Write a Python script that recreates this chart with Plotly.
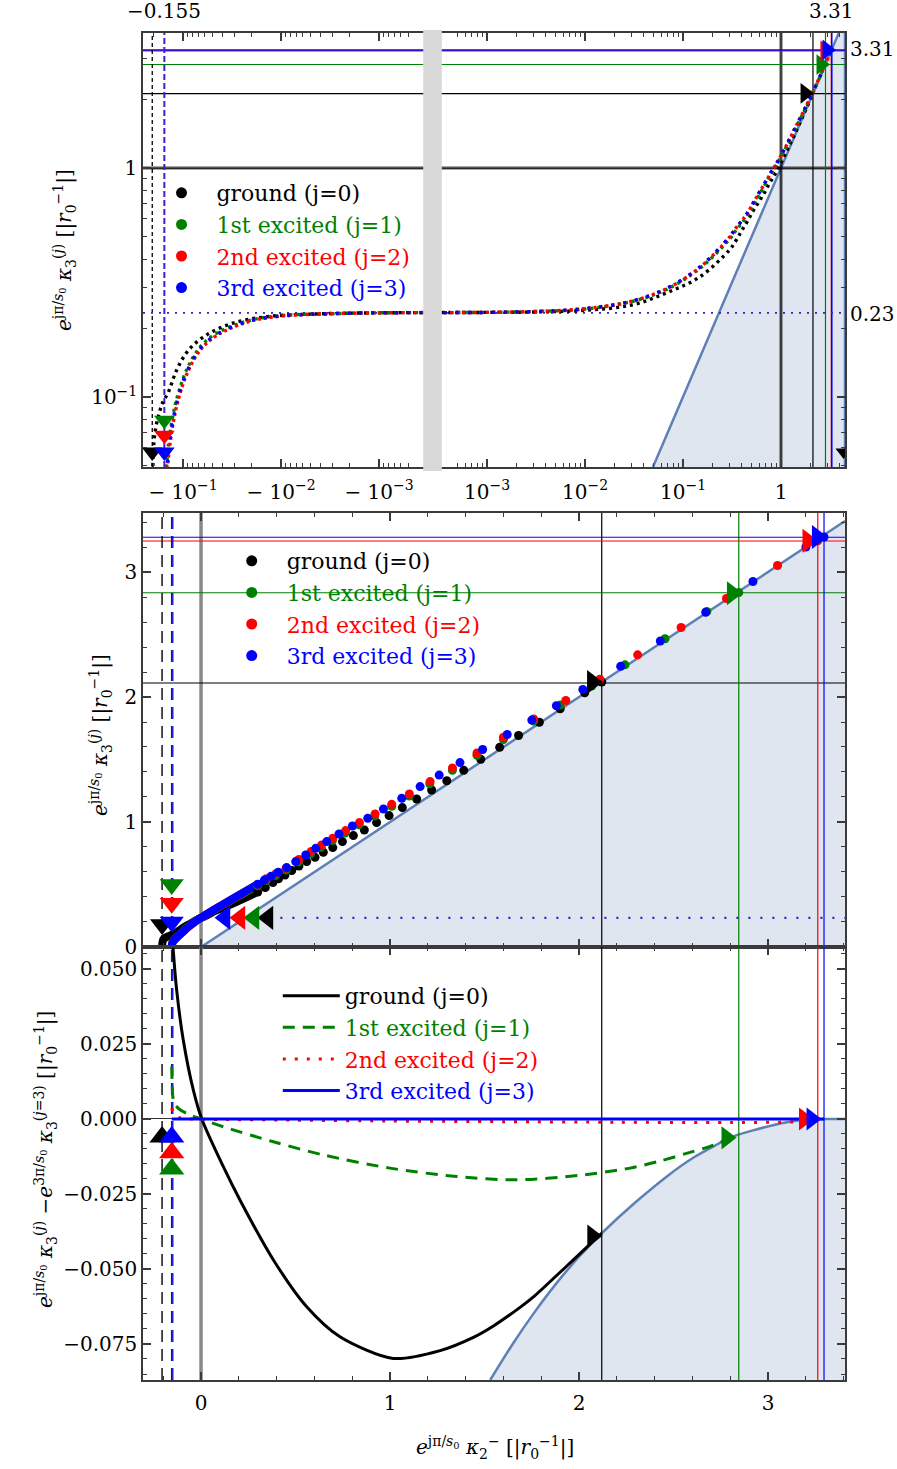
import math
import plotly.graph_objects as go

# ---------------- data ----------------
labels = ["ground (j=0)", "1st excited (j=1)", "2nd excited (j=2)", "3rd excited (j=3)"]
colors = ["#000000", "#008000", "#ff0000", "#0000ff"]

# scaled kappa3 vs scaled kappa2 : negative-x branch
neg_x = {
    0: [-0.206, -0.204, -0.200, -0.190, -0.175, -0.160, -0.141, -0.116, -0.088, -0.057, -0.031, -0.014, -0.005, -0.001],
    1: [-0.155, -0.153, -0.150, -0.145, -0.138, -0.126, -0.112, -0.092, -0.067, -0.045, -0.0207, -0.0095, -0.003, -0.001],
    2: [-0.155, -0.153, -0.150, -0.145, -0.138, -0.126, -0.112, -0.092, -0.067, -0.045, -0.0207, -0.0095, -0.003, -0.001],
    3: [-0.155, -0.153, -0.150, -0.145, -0.138, -0.126, -0.112, -0.092, -0.067, -0.045, -0.0207, -0.0095, -0.003, -0.001],
}
neg_y = {
    0: [0.0, 0.035, 0.060, 0.073, 0.085, 0.095, 0.105, 0.131, 0.160, 0.187, 0.210, 0.224, 0.230, 0.233],
    1: [0.0, 0.028, 0.042, 0.054, 0.066, 0.084, 0.103, 0.131, 0.165, 0.190, 0.216, 0.227, 0.231, 0.233],
    2: [0.0, 0.022, 0.035, 0.047, 0.059, 0.077, 0.097, 0.125, 0.160, 0.186, 0.214, 0.226, 0.231, 0.233],
    3: [0.0, 0.025, 0.038, 0.050, 0.062, 0.080, 0.100, 0.128, 0.162, 0.188, 0.215, 0.226, 0.231, 0.233],
}
# positive-x branch
pos_x = {
    0: [0.001, 0.003, 0.01, 0.03, 0.068, 0.149, 0.30, 0.34, 0.38, 0.41, 0.444, 0.480, 0.518, 0.559, 0.603, 0.647,
        0.697, 0.748, 0.806, 0.864, 0.929, 0.995, 1.065, 1.141, 1.22, 1.30, 1.39, 1.48, 1.58, 1.68, 1.79, 1.90,
        2.03, 2.12],
    1: [0.001, 0.003, 0.01, 0.03, 0.068, 0.149, 0.30, 0.345, 0.395, 0.45, 0.515, 0.58, 0.635, 0.695, 0.762, 0.836,
        0.918, 1.009, 1.102, 1.21, 1.33, 1.46, 1.60, 1.76, 1.90, 2.067, 2.243, 2.455, 2.676, 2.845],
    2: [0.001, 0.003, 0.01, 0.03, 0.068, 0.149, 0.30, 0.345, 0.395, 0.45, 0.518, 0.582, 0.638, 0.697, 0.765, 0.838,
        0.921, 1.009, 1.102, 1.212, 1.33, 1.46, 1.60, 1.76, 1.93, 2.11, 2.31, 2.54, 2.78, 3.05, 3.263],
    3: [0.001, 0.003, 0.01, 0.03, 0.068, 0.149, 0.30, 0.335, 0.37, 0.409, 0.453, 0.501, 0.554, 0.607, 0.665, 0.730,
        0.801, 0.882, 0.965, 1.062, 1.159, 1.26, 1.37, 1.49, 1.62, 1.75, 1.88, 2.02, 2.22, 2.43, 2.67, 2.92, 3.20,
        3.296],
}
pos_y = {
    0: [0.234, 0.235, 0.239, 0.252, 0.285, 0.335, 0.440, 0.475, 0.515, 0.545, 0.575, 0.612, 0.648, 0.683, 0.717,
        0.757, 0.795, 0.843, 0.891, 0.936, 0.995, 1.051, 1.115, 1.184, 1.256, 1.330, 1.413, 1.501, 1.597, 1.692,
        1.798, 1.905, 2.034, 2.12],
    1: [0.234, 0.236, 0.242, 0.261, 0.295, 0.365, 0.490, 0.532, 0.572, 0.615, 0.680, 0.745, 0.797, 0.852, 0.912,
        0.978, 1.048, 1.125, 1.207, 1.305, 1.414, 1.534, 1.660, 1.807, 1.935, 2.087, 2.257, 2.466, 2.684, 2.835],
    2: [0.234, 0.236, 0.243, 0.262, 0.297, 0.368, 0.500, 0.545, 0.585, 0.630, 0.700, 0.763, 0.816, 0.869, 0.931,
        0.995, 1.064, 1.141, 1.224, 1.323, 1.432, 1.552, 1.678, 1.824, 1.972, 2.142, 2.337, 2.556, 2.788, 3.052,
        3.25],
    3: [0.234, 0.236, 0.243, 0.262, 0.298, 0.370, 0.502, 0.535, 0.565, 0.598, 0.635, 0.683, 0.736, 0.789, 0.843,
        0.904, 0.968, 1.029, 1.104, 1.189, 1.283, 1.375, 1.475, 1.580, 1.700, 1.815, 1.930, 2.060, 2.245, 2.448,
        2.678, 2.924, 3.20, 3.28],
}

# end points (vertical / horizontal reference lines)
end_x = [2.12, 2.845, 3.263, 3.296]
end_y = [2.112, 2.834, 3.248, 3.278]
start_x = [-0.206, -0.155]          # left limits (dashed lines)
plateau = 0.233                      # kappa2 -> 0 limit (dotted line)
label_x_top = -0.155
label_val = 3.31
label_plateau = 0.23

# difference panel: kappa3^(j) - kappa3^(3)
diff_x = {
    0: [-0.148, -0.129, -0.094, -0.041, 0.004, 0.118, 0.206, 0.383, 0.559, 0.735, 1.017, 1.265, 1.441, 1.547,
        1.688, 1.757, 1.935, 2.04, 2.12],
    1: [-0.155, -0.153, -0.150, -0.145, -0.12, -0.058, 0.0, 0.118, 0.383, 0.647, 1.0, 1.353, 1.67, 2.0, 2.27,
        2.43, 2.60, 2.69, 2.80],
    2: [-0.155, -0.150, -0.140, -0.110, -0.05, 0.0, 0.5, 1.0, 1.6, 2.2, 2.8, 3.2, 3.263],
    3: [-0.155, 3.296],
}
diff_y = {
    0: [0.057, 0.043, 0.0263, 0.0097, 0.0, -0.0159, -0.027, -0.047, -0.0626, -0.0726, -0.0798, -0.0772, -0.0728,
        -0.0690, -0.0628, -0.0594, -0.0490, -0.0428, -0.0381],
    1: [0.0174, 0.012, 0.008, 0.0058, 0.0035, 0.0013, 0.0, -0.0026, -0.0076, -0.012, -0.0164, -0.0192, -0.0203,
        -0.0188, -0.0164, -0.014, -0.0109, -0.0092, -0.0064],
    2: [0.0036, 0.0025, 0.0012, 0.0003, 0.0, -0.0001, -0.0004, -0.0007, -0.0009, -0.0011, -0.0012, -0.0009, -0.0005],
    3: [0.0, 0.0],
}
# boundary of the excluded region in the difference panel
bnd_x = [1.53, 1.65, 1.76, 1.88, 2.0, 2.12, 2.3, 2.48, 2.6, 2.69, 2.8, 2.92, 3.1, 3.2, 3.31, 3.41]
bnd_y = [-0.087, -0.0749, -0.0648, -0.0548, -0.0459, -0.0381, -0.0277, -0.0184, -0.0131, -0.0099, -0.0062,
         -0.0038, -0.0011, -0.0003, 0.0, 0.0]

# arrowhead positions
top_down_x = [-0.206, -0.155, -0.155, -0.155]
top_down_y = [0.0575, 0.079, 0.068, 0.0575]
top_right_x = [1.76, 2.56, 2.81, 2.95]
top_right_y = [2.12, 2.83, 3.25, 3.28]
mid_down_x = [-0.206, -0.155, -0.155, -0.155]
mid_down_y = [0.18, 0.50, 0.35, 0.20]
mid_left_x = [0.354, 0.28, 0.206, 0.127]
mid_right_x = [2.07, 2.81, 3.21, 3.26]
mid_right_y = [2.12, 2.83, 3.25, 3.28]
bot_up_x = [-0.206, -0.155, -0.155, -0.155]
bot_up_y = [-0.006, -0.0167, -0.0113, -0.006]
bot_right_x = [2.07, 2.78, 3.19, 3.23]
bot_right_y = [-0.039, -0.0063, 0.0, 0.0]

# axis ranges
top_xr = (-0.256, 4.5)
top_yr = (0.0494, 3.89)
lin_xr = (-0.307, 3.407)
mid_yr = (0.0, 3.472)
bot_yr = (-0.087, 0.0573)

# ---------------- helpers ----------------
G = 3.551


def tx(v):
    return G + math.log10(v) if v > 0 else -G - math.log10(-v)


FONT = "DejaVu Serif"
AX = "#3a3a3a"
fig = go.Figure()


def add(tr, ax):
    tr.update(xaxis="x" + ax, yaxis="y" + ax)
    fig.add_trace(tr)


TX0, TX1 = tx(top_xr[0]), tx(top_xr[1])
SHADE = "rgba(94,129,181,0.2)"
SLINE = "rgb(94,129,181)"

# ================= TOP PANEL =================
sx = [top_yr[0], top_xr[1]]
add(go.Scatter(x=[tx(v) for v in sx] + [TX1], y=sx + [top_yr[0]], mode="lines", fill="toself",
               fillcolor=SHADE, line=dict(color=SLINE, width=2.5), showlegend=False, hoverinfo="skip"), "")
add(go.Scatter(x=[TX0, TX1], y=[1, 1], mode="lines", line=dict(color="rgba(0,0,0,0.35)", width=4),
               showlegend=False), "")
add(go.Scatter(x=[TX0, TX1], y=[1, 1], mode="lines", line=dict(color="black", width=1.2), showlegend=False), "")
add(go.Scatter(x=[tx(1), tx(1)], y=list(top_yr), mode="lines", line=dict(color="rgba(0,0,0,0.35)", width=4),
               showlegend=False), "")
add(go.Scatter(x=[tx(1), tx(1)], y=list(top_yr), mode="lines", line=dict(color="black", width=1.2),
               showlegend=False), "")
for j in range(4):
    w = 1.6 if j == 3 else 1.2
    add(go.Scatter(x=[TX0, TX1], y=[end_y[j]] * 2, mode="lines", line=dict(color=colors[j], width=w),
                   showlegend=False), "")
    add(go.Scatter(x=[tx(end_x[j])] * 2, y=list(top_yr), mode="lines", line=dict(color=colors[j], width=w),
                   showlegend=False), "")
add(go.Scatter(x=[tx(start_x[0])] * 2, y=list(top_yr), mode="lines",
               line=dict(color="black", width=1.3, dash="4px,3px"), showlegend=False), "")
add(go.Scatter(x=[tx(start_x[1])] * 2, y=list(top_yr), mode="lines",
               line=dict(color="#4a1ad0", width=2, dash="6px,3px"), showlegend=False), "")
add(go.Scatter(x=[TX0, TX1], y=[plateau] * 2, mode="lines",
               line=dict(color="#3c1ec8", width=1.8, dash="2px,6px"), showlegend=False), "")
dashes = ["3px,4px", "3px,4px", "3px,3px", "3px,9px"]
for j in range(4):
    xs = [tx(v) for v in neg_x[j]] + [tx(v) for v in pos_x[j]]
    ys = neg_y[j] + pos_y[j]
    xs2 = [a for a, b in zip(xs, ys) if b > 0]
    ys2 = [b for b in ys if b > 0]
    add(go.Scatter(x=xs2, y=ys2, mode="lines", line=dict(color=colors[j], width=3.4, dash=dashes[j], shape="spline"),
                   showlegend=False), "")
for j in range(4):
    add(go.Scatter(x=[tx(top_down_x[j])], y=[top_down_y[j]], mode="markers",
                   marker=dict(symbol="triangle-down", size=18, color=colors[j]), showlegend=False), "")
for j in range(4):
    add(go.Scatter(x=[tx(top_right_x[j])], y=[top_right_y[j]], mode="markers",
                   marker=dict(symbol="triangle-right", size=18, color=colors[j]), showlegend=False), "")
add(go.Scatter(x=[tx(4.35)], y=[top_down_y[0]], mode="markers",
               marker=dict(symbol="triangle-down", size=14, color="black"), showlegend=False), "")
for j in range(4):
    add(go.Scatter(x=[None], y=[None], mode="markers", marker=dict(size=11, color=colors[j]),
                   name='<span style="color:%s">%s</span>' % (colors[j], labels[j]), legend="legend"), "")

# ================= MIDDLE PANEL =================
add(go.Scatter(x=[0, lin_xr[1]], y=[0, lin_xr[1]], mode="lines", fill="tozeroy", fillcolor=SHADE,
               line=dict(color=SLINE, width=2.5), showlegend=False), "2")
add(go.Scatter(x=[0, 0], y=list(mid_yr), mode="lines", line=dict(color="#888888", width=3.5), showlegend=False), "2")
for j in range(4):
    add(go.Scatter(x=list(lin_xr), y=[end_y[j]] * 2, mode="lines", line=dict(color=colors[j], width=1.2),
                   showlegend=False), "2")
    add(go.Scatter(x=[end_x[j]] * 2, y=list(mid_yr), mode="lines", line=dict(color=colors[j], width=1.2),
                   showlegend=False), "2")
for v in start_x:
    add(go.Scatter(x=[v, v], y=list(mid_yr), mode="lines", line=dict(color="#222222", width=1.6, dash="12px,7px"),
                   showlegend=False), "2")
add(go.Scatter(x=[start_x[1] + 0.006] * 2, y=list(mid_yr), mode="lines",
               line=dict(color="#0000ff", width=1.2, dash="12px,7px"), showlegend=False), "2")
add(go.Scatter(x=[0.42, lin_xr[1]], y=[plateau] * 2, mode="lines",
               line=dict(color="#3c1ec8", width=2.2, dash="2px,10px"), showlegend=False), "2")
for j in range(4):
    lx = neg_x[j] + [v for v in pos_x[j] if v <= 0.30]
    ly = neg_y[j] + [b for v, b in zip(pos_x[j], pos_y[j]) if v <= 0.30]
    add(go.Scatter(x=lx, y=ly, mode="lines", line=dict(color=colors[j], width=8, shape="spline"),
                   showlegend=False), "2")
for j in range(4):
    mx = [v for v in pos_x[j] if v >= 0.3]
    my = [b for v, b in zip(pos_x[j], pos_y[j]) if v >= 0.3]
    add(go.Scatter(x=mx, y=my, mode="markers", marker=dict(size=9, color=colors[j]), showlegend=False), "2")
for j in range(4):
    add(go.Scatter(x=[mid_down_x[j]], y=[mid_down_y[j]], mode="markers",
                   marker=dict(symbol="triangle-down", size=21, color=colors[j]), showlegend=False), "2")
for j in range(4):
    add(go.Scatter(x=[mid_left_x[j]], y=[plateau], mode="markers",
                   marker=dict(symbol="triangle-left", size=21, color=colors[j]), showlegend=False), "2")
for j in range(4):
    add(go.Scatter(x=[mid_right_x[j]], y=[mid_right_y[j]], mode="markers",
                   marker=dict(symbol="triangle-right", size=21, color=colors[j]), showlegend=False), "2")
for j in range(4):
    add(go.Scatter(x=[None], y=[None], mode="markers", marker=dict(size=11, color=colors[j]),
                   name='<span style="color:%s">%s</span>' % (colors[j], labels[j]), legend="legend2"), "2")

# ================= BOTTOM PANEL =================
add(go.Scatter(x=bnd_x + [bnd_x[-1], bnd_x[0]], y=bnd_y + [bot_yr[0], bot_yr[0]], mode="lines", fill="toself",
               fillcolor=SHADE, line=dict(color="rgba(0,0,0,0)", width=0), showlegend=False), "3")
add(go.Scatter(x=bnd_x, y=bnd_y, mode="lines", line=dict(color=SLINE, width=2.5, shape="spline", smoothing=0.8),
               showlegend=False), "3")
add(go.Scatter(x=[0, 0], y=list(bot_yr), mode="lines", line=dict(color="#888888", width=3.5), showlegend=False), "3")
for j in range(4):
    add(go.Scatter(x=[end_x[j]] * 2, y=list(bot_yr), mode="lines", line=dict(color=colors[j], width=1.2),
                   showlegend=False), "3")
for v in start_x:
    add(go.Scatter(x=[v, v], y=list(bot_yr), mode="lines", line=dict(color="#222222", width=1.6, dash="12px,7px"),
                   showlegend=False), "3")
add(go.Scatter(x=[start_x[1] + 0.006] * 2, y=list(bot_yr), mode="lines",
               line=dict(color="#0000ff", width=1.2, dash="12px,7px"), showlegend=False), "3")
bot_dash = ["solid", "12px,8px", "3px,9px", "solid"]
for j in range(4):
    add(go.Scatter(x=diff_x[j], y=diff_y[j], mode="lines",
                   line=dict(color=colors[j], width=3, dash=bot_dash[j], shape="spline", smoothing=0.8),
                   name='<span style="color:%s">%s</span>' % (colors[j], labels[j]), legend="legend3"), "3")
for j in range(4):
    add(go.Scatter(x=[bot_up_x[j]], y=[bot_up_y[j]], mode="markers",
                   marker=dict(symbol="triangle-up", size=22, color=colors[j]), showlegend=False), "3")
for j in range(4):
    add(go.Scatter(x=[bot_right_x[j]], y=[bot_right_y[j]], mode="markers",
                   marker=dict(symbol="triangle-right", size=20, color=colors[j]), showlegend=False), "3")

# ---------------- layout ----------------
tickfont = dict(family=FONT, size=20, color="black")
base = dict(showline=True, linecolor=AX, linewidth=1.5, mirror="allticks", ticks="inside", tickcolor=AX,
            ticklen=8, tickwidth=1.5, showgrid=False, zeroline=False, tickfont=tickfont, automargin=False)

top_major = [-0.1, -0.01, -0.001, 0.001, 0.01, 0.1, 1]
top_major_txt = ["− 10<sup>−1</sup>", "− 10<sup>−2</sup>", "− 10<sup>−3</sup>", "10<sup>−3</sup>",
                 "10<sup>−2</sup>", "10<sup>−1</sup>", "1"]
top_minor = []
for k in (-4, -3, -2, -1, 0):
    for m in range(2, 10):
        for s in (1, -1):
            v = s * m * 10 ** k
            if k == -4 and m < 5:
                continue
            if top_xr[0] <= v <= top_xr[1]:
                top_minor.append(tx(v))

y_major = [0.1, 1]
y_minor = [m * 10 ** k for k in (-2, -1, 0) for m in range(2, 10) if top_yr[0] <= m * 10 ** k <= top_yr[1]]

title_txt = ("<i>e</i><sup>jπ/<i>s</i><sub>0</sub></sup> <i>κ</i><sub>3</sub><sup>(<i>j</i>)</sup>"
             " [|<i>r</i><sub>0</sub><sup>−1</sup>|]")
bot_title = ("<i>e</i><sup>jπ/<i>s</i><sub>0</sub></sup> <i>κ</i><sub>3</sub><sup>(<i>j</i>)</sup> −"
             "<i>e</i><sup>3π/<i>s</i><sub>0</sub></sup> <i>κ</i><sub>3</sub><sup>(<i>j</i>=3)</sup>"
             " [|<i>r</i><sub>0</sub><sup>−1</sup>|]")
x_title = ("<i>e</i><sup>jπ/<i>s</i><sub>0</sub></sup> <i>κ</i><sub>2</sub><sup>−</sup>"
           " [|<i>r</i><sub>0</sub><sup>−1</sup>|]")
titlefont = dict(family=FONT, size=20, color="black")

d_bot = (0.0, 0.32146)
d_mid = (0.32146, 0.64365)
d_top = (0.6778, 1.0)

lin_major = [0, 1, 2, 3]
lin_minor = [round(i * 0.2, 1) for i in range(-1, 18) if round(i * 0.2, 1) not in (0, 1, 2, 3)]
mid_minor_y = [round(i * 0.2, 1) for i in range(0, 18) if round(i * 0.2, 1) not in (0, 1, 2, 3)]
bot_major = [-0.075, -0.05, -0.025, 0.0, 0.025, 0.05]
bot_major_txt = ["−0.075", "−0.050", "−0.025", "0.000", "0.025", "0.050"]
bot_minor = [round(-0.085 + 0.005 * i, 3) for i in range(0, 29) if round(-0.085 + 0.005 * i, 3) not in bot_major]

PH = 1347.0
PW = 702.0


def px_x(p):
    return (p - 143) / PW


def px_y(p):
    return (1380 - p) / PH


def title_ann(text, xp, yp, angle):
    return dict(text=text, textangle=angle, x=px_x(xp), xref="paper", y=px_y(yp), yref="paper",
                xanchor="center", yanchor="middle", showarrow=False, font=titlefont)


fig.update_layout(
    width=897, height=1469, margin=dict(l=143, r=52, t=33, b=89),
    paper_bgcolor="white", plot_bgcolor="white", font=dict(family=FONT, size=20, color="black"),
    xaxis=dict(base, domain=[0, 1], range=[TX0, TX1], anchor="y", tickmode="array", tickvals=[tx(v) for v in top_major],
               ticktext=top_major_txt, ticklabelstandoff=6,
               minor=dict(tickvals=top_minor, ticklen=4, tickwidth=1, tickcolor=AX, ticks="inside")),
    yaxis=dict(base, domain=list(d_top), type="log", range=[math.log10(top_yr[0]), math.log10(top_yr[1])],
               anchor="x", tickmode="array", tickvals=y_major, ticktext=["10<sup>−1</sup>", "1"],
               minor=dict(tickvals=y_minor, ticklen=4, tickwidth=1, tickcolor=AX, ticks="inside")),
    xaxis2=dict(base, domain=[0, 1], range=list(lin_xr), anchor="y2", tickmode="array", tickvals=lin_major,
                showticklabels=False, minor=dict(tickvals=lin_minor, ticklen=4, tickwidth=1, tickcolor=AX,
                                                 ticks="inside")),
    yaxis2=dict(base, domain=list(d_mid), range=list(mid_yr), anchor="x2", tickmode="array", tickvals=lin_major,
                ticktext=["0", "1", "2", "3"],
                minor=dict(tickvals=mid_minor_y, ticklen=4, tickwidth=1, tickcolor=AX, ticks="inside")),
    xaxis3=dict(base, domain=[0, 1], range=list(lin_xr), anchor="y3", tickmode="array", tickvals=lin_major,
                ticktext=["0", "1", "2", "3"], ticklabelstandoff=4,
                minor=dict(tickvals=lin_minor, ticklen=4, tickwidth=1, tickcolor=AX, ticks="inside")),
    yaxis3=dict(base, domain=list(d_bot), range=list(bot_yr), anchor="x3", tickmode="array", tickvals=bot_major,
                ticktext=bot_major_txt, zeroline=True, zerolinecolor="#333333", zerolinewidth=1,
                minor=dict(tickvals=bot_minor, ticklen=4, tickwidth=1, tickcolor=AX, ticks="inside")),
    legend=dict(x=0.005, y=0.8968, xanchor="left", yanchor="top", bgcolor="rgba(0,0,0,0)",
                font=dict(family=FONT, size=22), itemwidth=60, tracegroupgap=0),
    legend2=dict(x=0.105, y=0.6236, xanchor="left", yanchor="top", bgcolor="rgba(0,0,0,0)",
                 font=dict(family=FONT, size=22), itemwidth=60, tracegroupgap=0),
    legend3=dict(x=0.192, y=0.3007, xanchor="left", yanchor="top", bgcolor="rgba(0,0,0,0)",
                 font=dict(family=FONT, size=22), itemwidth=57, tracegroupgap=0),
    shapes=[dict(type="rect", xref="x", yref="paper", x0=-0.1, x1=0.09,
                 y0=px_y(471), y1=px_y(30), fillcolor="#d9d9d9", line=dict(width=0), layer="above")],
    annotations=[
        dict(text="−0.155", x=tx(label_x_top), xref="x", y=1, yref="paper", yanchor="bottom", yshift=8,
             showarrow=False, font=tickfont),
        dict(text="3.31", x=tx(label_val), xref="x", y=1, yref="paper", yanchor="bottom", yshift=8,
             showarrow=False, font=tickfont),
        dict(text="3.31", x=1, xref="paper", xanchor="left", xshift=3, y=math.log10(label_val), yref="y",
             showarrow=False, font=tickfont),
        dict(text="0.23", x=1, xref="paper", xanchor="left", xshift=3, y=math.log10(label_plateau), yref="y",
             showarrow=False, font=tickfont),
        title_ann(title_txt, 65, 250, -90),
        title_ann(title_txt, 100, 735, -90),
        title_ann(bot_title, 45, 1160, -90),
        title_ann(x_title, 495, 1447, 0),
    ],
)

fig.write_html("out.html")
